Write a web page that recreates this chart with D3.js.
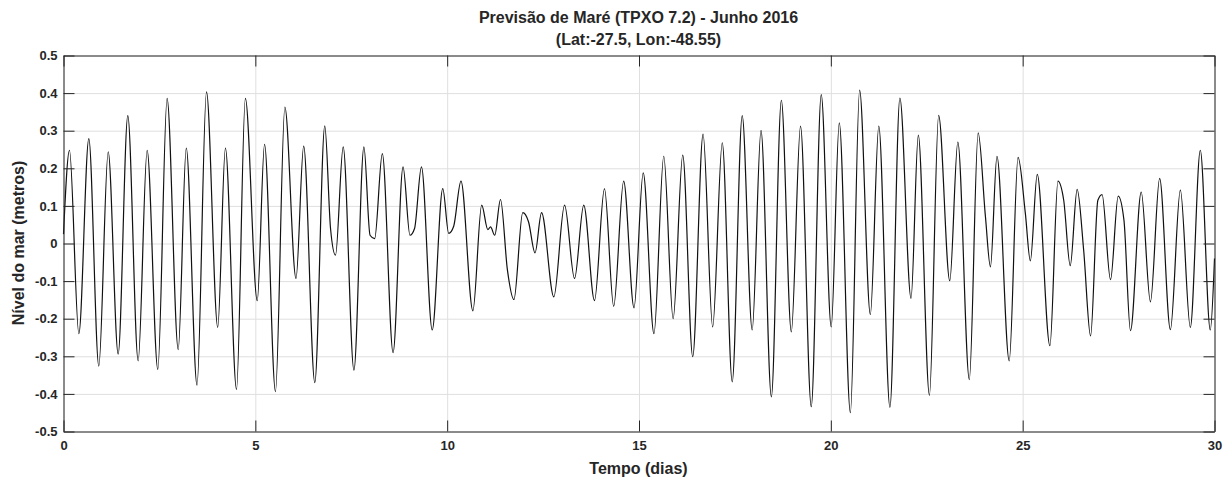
<!DOCTYPE html>
<html>
<head>
<meta charset="utf-8">
<script src="https://cdn.jsdelivr.net/npm/d3@7"></script>
<style>
body { margin: 0; background: #fff; }
text { font-family: "Liberation Sans", Arial, Helvetica, sans-serif; font-weight: bold; fill: #262626; }
</style>
</head>
<body>
<svg id="chart" width="1230" height="482"></svg>
<script>
// tide series: highs, lows and the small shoulders between them
var days = [
	0.00, 0.156, 0.40, 0.66, 0.92, 1.165, 1.425, 1.676, 1.946, 2.18,
	2.458, 2.70, 2.99, 3.20, 3.48, 3.727, 4.02, 4.22, 4.51, 4.74,
	5.05, 5.24, 5.525, 5.77, 6.06, 6.26, 6.55, 6.81, 6.96, 7.09,
	7.29, 7.57, 7.83, 7.99, 8.11, 8.31, 8.59, 8.85, 9.03, 9.15,
	9.33, 9.61, 9.885, 10.04, 10.17, 10.36, 10.67, 10.90, 11.06, 11.13,
	11.24, 11.39, 11.57, 11.74, 11.97, 12.12, 12.29, 12.46, 12.78, 13.06,
	13.32, 13.56, 13.84, 14.10, 14.34, 14.60, 14.87, 15.11, 15.39, 15.645,
	15.89, 16.14, 16.40, 16.67, 16.92, 17.17, 17.43, 17.69, 17.95, 18.18,
	18.45, 18.71, 18.97, 19.21, 19.49, 19.75, 20.01, 20.22, 20.51, 20.75,
	21.03, 21.25, 21.54, 21.80, 22.09, 22.28, 22.57, 22.81, 23.10, 23.31,
	23.61, 23.84, 24.03, 24.16, 24.33, 24.65, 24.88, 25.07, 25.20, 25.38,
	25.71, 25.92, 26.07, 26.24, 26.42, 26.59, 26.77, 26.96, 27.07, 27.29,
	27.49, 27.64, 27.81, 28.09, 28.33, 28.57, 28.85, 29.11, 29.37, 29.63,
	29.89, 30.00
];
var levels = [
	0.025, 0.248, -0.24, 0.279, -0.326, 0.244, -0.294, 0.34, -0.312, 0.248,
	-0.335, 0.386, -0.282, 0.254, -0.377, 0.403, -0.223, 0.254, -0.388, 0.386,
	-0.152, 0.264, -0.394, 0.363, -0.093, 0.259, -0.37, 0.313, 0.04, -0.031,
	0.257, -0.337, 0.257, 0.022, 0.013, 0.239, -0.29, 0.204, 0.022, 0.04,
	0.204, -0.23, 0.146, 0.027, 0.046, 0.166, -0.179, 0.102, 0.037, 0.044,
	0.022, 0.117, -0.07, -0.149, 0.082, 0.058, -0.025, 0.082, -0.142, 0.102,
	-0.093, 0.102, -0.152, 0.146, -0.167, 0.166, -0.171, 0.188, -0.24, 0.232,
	-0.2, 0.235, -0.301, 0.291, -0.222, 0.268, -0.368, 0.34, -0.23, 0.301,
	-0.408, 0.381, -0.235, 0.312, -0.434, 0.396, -0.222, 0.321, -0.45, 0.408,
	-0.189, 0.312, -0.436, 0.387, -0.146, 0.288, -0.404, 0.341, -0.099, 0.27,
	-0.362, 0.294, 0.071, -0.062, 0.232, -0.312, 0.229, 0.08, -0.046, 0.184,
	-0.272, 0.166, 0.115, -0.059, 0.144, -0.018, -0.246, 0.115, 0.13, -0.096,
	0.126, 0.062, -0.232, 0.137, -0.155, 0.173, -0.229, 0.142, -0.223, 0.248,
	-0.23, -0.04
];

var xTicks = [0, 5, 10, 15, 20, 25, 30];
var yTicks = [-0.5, -0.4, -0.3, -0.2, -0.1, 0, 0.1, 0.2, 0.3, 0.4, 0.5];
var yTickLabels = ["-0.5", "-0.4", "-0.3", "-0.2", "-0.1", "0", "0.1", "0.2", "0.3", "0.4", "0.5"];

var titleLines = ["Previsão de Maré (TPXO 7.2) - Junho 2016", "(Lat:-27.5, Lon:-48.55)"];
var xLabel = "Tempo (dias)";
var yLabel = "Nível do mar (metros)";

//////////////////////////////////////////////////

var svg = d3.select("#chart");
var plotLeft = 63, plotRight = 1214, plotTop = 55, plotBottom = 431;
var w = plotRight - plotLeft, h = plotBottom - plotTop;

var x_scale = d3.scaleLinear().domain([0, 30]).range([0, w]);
var y_scale = d3.scaleLinear().domain([-0.5, 0.5]).range([h, 0]);

var g = svg.append("g").attr("transform", "translate(" + (plotLeft + 0.5) + "," + (plotTop + 0.5) + ")");

// grid
var gridX = g.append("g")
	.attr("transform", "translate(0," + h + ")")
	.call(d3.axisBottom(x_scale).tickValues(xTicks).tickSize(-h).tickFormat(""));
var gridY = g.append("g")
	.call(d3.axisLeft(y_scale).tickValues(yTicks).tickSize(-w).tickFormat(""));
g.selectAll(".tick line").attr("stroke", "#dfdfdf");
gridX.select(".domain").remove();
gridY.select(".domain").remove();

// tide line
var line = d3.line()
	.x(function(d) { return x_scale(d[0]); })
	.y(function(d) { return y_scale(d[1]); })
	.curve(d3.curveMonotoneX);

g.append("path")
	.attr("d", line(d3.zip(days, levels)))
	.attr("fill", "none")
	.attr("stroke", "#111")
	.attr("stroke-width", 1.2);

// axes, ticks pointing inwards on all four sides
function styleAxis(sel) {
	sel.select(".domain").attr("stroke", "#262626");
	sel.selectAll(".tick line").attr("stroke", "#262626");
	sel.selectAll("text").attr("font-size", "13px").attr("fill", "#262626").attr("font-family", null);
}

g.append("g")
	.attr("transform", "translate(0," + h + ")")
	.call(d3.axisBottom(x_scale).tickValues(xTicks).tickSizeInner(-11).tickSizeOuter(0).tickPadding(9))
	.call(styleAxis);
g.append("g")
	.call(d3.axisTop(x_scale).tickValues(xTicks).tickSizeInner(-11).tickSizeOuter(0).tickFormat(""))
	.call(styleAxis);
g.append("g")
	.call(d3.axisLeft(y_scale).tickValues(yTicks).tickFormat(function(d, i) { return yTickLabels[i]; })
		.tickSizeInner(-11).tickSizeOuter(0).tickPadding(6))
	.call(styleAxis);
g.append("g")
	.attr("transform", "translate(" + w + ",0)")
	.call(d3.axisRight(y_scale).tickValues(yTicks).tickSizeInner(-11).tickSizeOuter(0).tickFormat(""))
	.call(styleAxis);

// titles and labels
svg.append("text")
	.attr("x", (plotLeft + plotRight) / 2).attr("y", 23)
	.attr("text-anchor", "middle").attr("font-size", "16px")
	.text(titleLines[0]);
svg.append("text")
	.attr("x", (plotLeft + plotRight) / 2).attr("y", 45)
	.attr("text-anchor", "middle").attr("font-size", "16px")
	.text(titleLines[1]);
svg.append("text")
	.attr("x", (plotLeft + plotRight) / 2).attr("y", 474)
	.attr("text-anchor", "middle").attr("font-size", "16px")
	.text(xLabel);
svg.append("text")
	.attr("transform", "translate(24," + ((plotTop + plotBottom) / 2) + ") rotate(-90)")
	.attr("text-anchor", "middle").attr("font-size", "16px")
	.text(yLabel);
</script>
</body>
</html>
